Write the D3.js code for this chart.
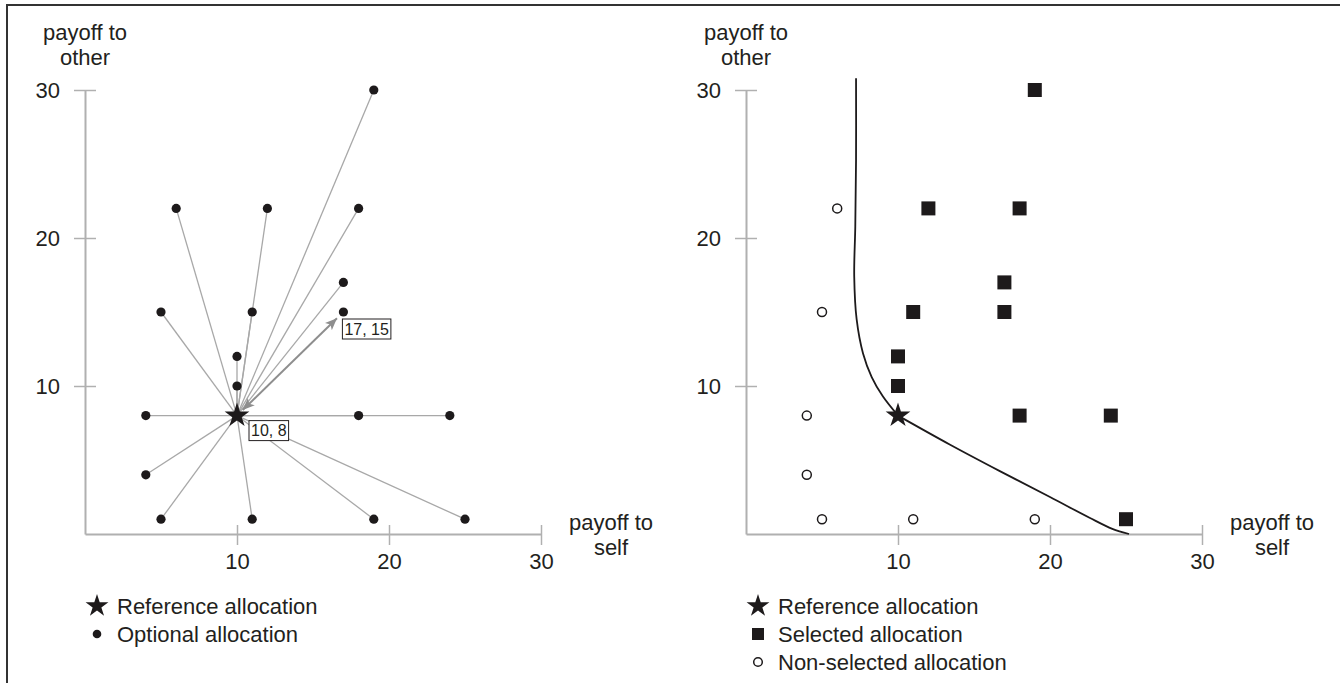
<!DOCTYPE html>
<html>
<head>
<meta charset="utf-8">
<script src="https://cdn.jsdelivr.net/npm/d3@7"></script>
<style>
  html, body { margin: 0; padding: 0; background: #fff; }
  svg { display: block; }
  text { font-family: "Liberation Sans", Arial, Helvetica, sans-serif; fill: #231f20; }
</style>
</head>
<body>
<svg id="chart" width="1340" height="683"></svg>
<script>
// ---------- data ----------
const axisTicks = [10, 20, 30];
const referenceSelf = 10;
const referenceOther = 8;

// left panel: optional allocations
const optionalSelf  = [19, 6, 12, 18, 17, 5, 11, 17, 10, 10, 4, 18, 24, 4, 5, 11, 19, 25];
const optionalOther = [30, 22, 22, 22, 17, 15, 15, 15, 12, 10, 8, 8, 8, 4, 1, 1, 1, 1];
const arrowTarget = [17, 15];

// right panel
const selectedSelf  = [19, 12, 18, 17, 11, 17, 10, 10, 18, 24, 25];
const selectedOther = [30, 22, 22, 17, 15, 15, 12, 10, 8, 8, 1];
const nonSelectedSelf  = [6, 5, 4, 4, 5, 11, 19];
const nonSelectedOther = [22, 15, 8, 4, 1, 1, 1];
// indifference curve, upper branch (to the reference point) and lower branch (from it)
const upperSelf  = [7.24, 7.24, 7.19, 7.12, 7.28, 7.7, 8.27, 9.0, 10];
const upperOther = [30.8, 25.3, 20.8, 17.4, 14.5, 12.2, 10.6, 9.3, 8];
const lowerSelf  = [10, 13.4, 16.7, 20.0, 22.6, 24.1, 25.2];
const lowerOther = [8, 6.05, 4.25, 2.5, 1.1, 0.35, 0];

const xTitle = ["payoff to", "self"];
const yTitle = ["payoff to", "other"];
const legendLeft = ["Reference allocation", "Optional allocation"];
const legendRight = ["Reference allocation", "Selected allocation", "Non-selected allocation"];

// ---------- drawing ----------
const svg = d3.select("#chart");
const ink = "#1d1a1b";
const axisGray = "#b0b0b0";
const rayGray = "#a8a8a8";
const fontSize = 22;

// frame
svg.append("path").attr("d", "M7,683V5H1340").attr("fill", "none")
  .attr("stroke", "#333").attr("stroke-width", 2);

function makePanel(x0) {
  const x = d3.scaleLinear().domain([0, 30]).range([x0, x0 + 456]);
  const y = d3.scaleLinear().domain([0, 30]).range([534, 90]);
  const g = svg.append("g");

  // x axis
  const gx = g.append("g").attr("transform", `translate(0,${y(0)})`)
    .call(d3.axisBottom(x).tickValues(axisTicks).tickSizeOuter(0));
  gx.select(".domain").attr("stroke", axisGray).attr("stroke-width", 2);
  gx.selectAll(".tick line").attr("stroke", axisGray).attr("stroke-width", 1.5)
    .attr("y1", -9).attr("y2", 11);
  gx.selectAll(".tick text").attr("y", 35).attr("dy", 0)
    .attr("font-size", fontSize).attr("font-family", null).style("fill", "#231f20");

  // y axis
  const gy = g.append("g").attr("transform", `translate(${x(0)},0)`)
    .call(d3.axisLeft(y).tickValues(axisTicks).tickSizeOuter(0));
  gy.select(".domain").attr("stroke", axisGray).attr("stroke-width", 2);
  gy.selectAll(".tick line").attr("stroke", axisGray).attr("stroke-width", 1.5)
    .attr("x1", -11).attr("x2", 11);
  gy.selectAll(".tick text").attr("x", -25).attr("dy", "0.36em")
    .attr("font-size", fontSize).attr("font-family", null).style("fill", "#231f20");

  // titles
  g.selectAll(".ytitle").data(yTitle).join("text")
    .attr("x", x(0)).attr("y", (d, i) => 40 + i * 25)
    .attr("text-anchor", "middle").attr("font-size", fontSize).text(d => d);
  g.selectAll(".xtitle").data(xTitle).join("text")
    .attr("x", x(30) + 70).attr("y", (d, i) => 530 + i * 25)
    .attr("text-anchor", "middle").attr("font-size", fontSize).text(d => d);
  return { x, y, g };
}

const star = d3.symbol().type(d3.symbolStar);
const starSize = r => (r * r) / 0.8908130915292852;

// ---------- left panel ----------
const L = makePanel(85);
const optional = optionalSelf.map((s, i) => ({ s, o: optionalOther[i] }));
const rays = optional.filter(d => !(d.s === arrowTarget[0] && d.o === arrowTarget[1]));
L.g.selectAll(".ray").data(rays).join("line")
  .attr("x1", L.x(referenceSelf)).attr("y1", L.y(referenceOther))
  .attr("x2", d => L.x(d.s)).attr("y2", d => L.y(d.o))
  .attr("stroke", rayGray).attr("stroke-width", 1.3);

// arrow (double headed)
const defs = svg.append("defs");
["end", "start"].forEach(k => {
  defs.append("marker").attr("id", "arr-" + k)
    .attr("viewBox", "0 0 12 10").attr("refX", 12).attr("refY", 5)
    .attr("markerWidth", 12).attr("markerHeight", 10)
    .attr("markerUnits", "userSpaceOnUse")
    .attr("orient", k === "end" ? "auto" : "auto-start-reverse")
    .append("path").attr("d", "M0,0L12,5L0,10L3,5Z").attr("fill", "#8e8e8e");
});
{
  const ax = L.x(referenceSelf), ay = L.y(referenceOther);
  const bx = L.x(arrowTarget[0]), by = L.y(arrowTarget[1]);
  const len = Math.hypot(bx - ax, by - ay);
  const ux = (bx - ax) / len, uy = (by - ay) / len;
  L.g.append("line")
    .attr("x1", ax + ux * 8).attr("y1", ay + uy * 8)
    .attr("x2", bx - ux * 9).attr("y2", by - uy * 9)
    .attr("stroke", "#8e8e8e").attr("stroke-width", 2)
    .attr("marker-end", "url(#arr-end)").attr("marker-start", "url(#arr-start)");
}

L.g.selectAll(".dot").data(optional).join("circle")
  .attr("cx", d => L.x(d.s)).attr("cy", d => L.y(d.o)).attr("r", 4.6).attr("fill", ink);

L.g.append("path").attr("d", star.size(starSize(13))())
  .attr("transform", `translate(${L.x(referenceSelf)},${L.y(referenceOther)})`).attr("fill", ink);

// value labels with boxes
function boxLabel(txt, px, py) {
  const bg = L.g.append("g");
  const rect = bg.append("rect");
  const t = bg.append("text").attr("x", px).attr("y", py + 5.5).attr("font-size", 16)
    .attr("text-anchor", "start").text(txt);
  const w = t.node().getComputedTextLength();
  rect.attr("x", px - 2).attr("y", py - 10).attr("width", w + 4).attr("height", 20)
    .attr("fill", "#fff").attr("stroke", "#231f20").attr("stroke-width", 1);
}
boxLabel(`${referenceSelf}, ${referenceOther}`, L.x(referenceSelf) + 14, L.y(referenceOther) + 15);
boxLabel(`${arrowTarget[0]}, ${arrowTarget[1]}`, L.x(arrowTarget[0]) + 1, L.y(arrowTarget[1]) + 17);

// left legend
{
  const lg = svg.append("g");
  lg.append("path").attr("d", star.size(starSize(12))()).attr("transform", "translate(97,606)").attr("fill", ink);
  lg.append("circle").attr("cx", 97).attr("cy", 634).attr("r", 4.3).attr("fill", ink);
  lg.selectAll("text").data(legendLeft).join("text")
    .attr("x", 117).attr("y", (d, i) => 614 + i * 28).attr("font-size", fontSize).text(d => d);
}

// ---------- right panel ----------
const R = makePanel(746);
const line = d3.line().x(d => R.x(d[0])).y(d => R.y(d[1])).curve(d3.curveCatmullRom.alpha(0.5));
[[upperSelf, upperOther], [lowerSelf, lowerOther]].forEach(([xs, ys]) => {
  R.g.append("path").datum(xs.map((s, i) => [s, ys[i]]))
    .attr("d", line).attr("fill", "none").attr("stroke", ink).attr("stroke-width", 1.8);
});

R.g.selectAll(".sel").data(selectedSelf.map((s, i) => ({ s, o: selectedOther[i] }))).join("rect")
  .attr("x", d => R.x(d.s) - 7).attr("y", d => R.y(d.o) - 7)
  .attr("width", 14).attr("height", 14).attr("fill", ink);

R.g.selectAll(".non").data(nonSelectedSelf.map((s, i) => ({ s, o: nonSelectedOther[i] }))).join("circle")
  .attr("cx", d => R.x(d.s)).attr("cy", d => R.y(d.o)).attr("r", 4.5)
  .attr("fill", "#fff").attr("stroke", ink).attr("stroke-width", 1.5);

R.g.append("path").attr("d", star.size(starSize(13))())
  .attr("transform", `translate(${R.x(referenceSelf)},${R.y(referenceOther)})`).attr("fill", ink);

// right legend
{
  const lg = svg.append("g");
  lg.append("path").attr("d", star.size(starSize(12))()).attr("transform", "translate(758,606)").attr("fill", ink);
  lg.append("rect").attr("x", 752).attr("y", 628).attr("width", 12).attr("height", 12).attr("fill", ink);
  lg.append("circle").attr("cx", 758).attr("cy", 662).attr("r", 4.3).attr("fill", "#fff")
    .attr("stroke", ink).attr("stroke-width", 1.5);
  lg.selectAll("text").data(legendRight).join("text")
    .attr("x", 778).attr("y", (d, i) => 614 + i * 28).attr("font-size", fontSize).text(d => d);
}
</script>
</body>
</html>
